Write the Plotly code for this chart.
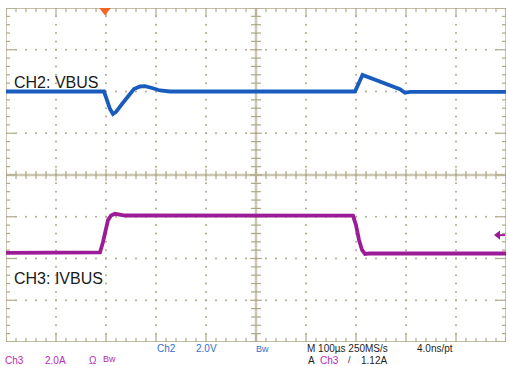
import plotly.graph_objects as go

# ---- acquisition settings ----
T_PER_DIV_US = 100.0          # horizontal: 100 us/div, 10 divisions
CH2_V_PER_DIV = 2.0           # VBUS channel
CH2_OFFSET_V = 5.0            # offset voltage shown at the channel marker
CH2_POS_DIV = 2.0             # vertical position of the channel marker
CH3_A_PER_DIV = 2.0           # IVBUS current probe channel
CH3_POS_DIV = -2.0            # ground position of the current channel
TRIGGER_LEVEL_A = 1.12
TRIGGER_TIME_US = -302.0

# ---- CH2: VBUS (time in us, volts) ----
vbus_t = [-500, -304, -298, -292, -286, -280, -268, -256, -244, -232, -222,
          -208, -192, -172, 198, 213, 228, 248, 268, 288, 298, 308, 500]
vbus_v = [5.00, 5.00, 4.59, 4.16, 3.92, 4.02, 4.40, 4.78, 5.12, 5.24, 5.26,
          5.17, 5.05, 5.00, 5.00, 5.79, 5.66, 5.50, 5.31, 5.11, 4.94, 4.98, 4.98]

# ---- CH3: IVBUS (time in us, amps) ----
ibus_t = [-500, -312, -306, -300, -296, -290, -282, -262, 194, 200, 206, 212, 218, 226, 500]
ibus_a = [0.27, 0.29, 0.79, 1.46, 1.84, 2.06, 2.14, 2.06, 2.05, 1.60, 0.89, 0.41, 0.22, 0.24, 0.24]

# ---- screen geometry ----
W, H = 508, 366
L, R, T, B = 6, 2, 8, 24
PLOT_W = W - L - R            # 500 px for 10 div
PLOT_H = H - T - B            # 334 px for 8 div
X_HALF = 5 * T_PER_DIV_US
PX_X = 2 * X_HALF / PLOT_W    # us per pixel
PX_Y = 8.0 / PLOT_H           # div per pixel

GRID = "#aea889"
CENTER = "#cbc7b2"
BLUE = "#1a5cbd"
PURPLE = "#9c1c98"
ORANGE = "#f26522"


def ch2_div(v):
    return [(x - CH2_OFFSET_V) / CH2_V_PER_DIV + CH2_POS_DIV for x in v]


def ch3_div(a):
    return [x / CH3_A_PER_DIV + CH3_POS_DIV for x in a]


fig = go.Figure()


def segments(pairs, color, width):
    xs, ys = [], []
    for (x0, y0, x1, y1) in pairs:
        xs += [x0, x1, None]
        ys += [y0, y1, None]
    fig.add_trace(go.Scatter(x=xs, y=ys, mode="lines", hoverinfo="skip",
                             line=dict(color=color, width=width), showlegend=False))


# graticule: center cross
segments([(-X_HALF, 0, X_HALF, 0), (0, -4, 0, 4)], CENTER, 2.5)

# graticule: dotted division lines
dot_x, dot_y = [], []
for i in range(-4, 5):
    if i == 0:
        continue
    gx = i * T_PER_DIV_US
    for k in range(-20, 21):
        dot_x.append(gx)
        dot_y.append(k * 0.2)
for j in range(-3, 4):
    if j == 0:
        continue
    for k in range(-25, 26):
        dot_x.append(k * T_PER_DIV_US / 5)
        dot_y.append(j)
fig.add_trace(go.Scatter(x=dot_x, y=dot_y, mode="markers", hoverinfo="skip",
                         marker=dict(color=GRID, size=2, line=dict(width=0)),
                         showlegend=False))

# graticule: minor ticks on the center cross and on the border
ticks = []
for k in range(-25, 26):
    x = k * T_PER_DIV_US / 5
    major = k % 5 == 0
    h = (6 if major else 4) * PX_Y
    ticks.append((x, -h, x, h))
    tb = (8 if major else 4) * PX_Y
    ticks.append((x, 4, x, 4 - tb))
    ticks.append((x, -4, x, -4 + tb))
for k in range(-20, 21):
    y = k * 0.2
    major = k % 5 == 0
    w = (6 if major else 5) * PX_X
    ticks.append((-w, y, w, y))
    wb = (9 if major else 4) * PX_X
    ticks.append((-X_HALF, y, -X_HALF + wb, y))
    ticks.append((X_HALF, y, X_HALF - wb, y))
segments(ticks, GRID, 1.2)

# border
segments([(-X_HALF, -4, X_HALF, -4), (-X_HALF, 4, X_HALF, 4),
          (-X_HALF, -4, -X_HALF, 4), (X_HALF, -4, X_HALF, 4)], GRID, 1.3)

# waveforms
fig.add_trace(go.Scatter(x=vbus_t, y=ch2_div(vbus_v), mode="lines", name="CH2: VBUS",
                         line=dict(color=BLUE, width=3.8), showlegend=False))
fig.add_trace(go.Scatter(x=ibus_t, y=ch3_div(ibus_a), mode="lines", name="CH3: IVBUS",
                         line=dict(color=PURPLE, width=3.8), showlegend=False))

# channel markers at the left edge
fig.add_trace(go.Scatter(x=[-X_HALF - 3 * PX_X], y=[CH2_POS_DIV + 0.03], mode="markers",
                         marker=dict(symbol="triangle-right", size=7, color=BLUE),
                         cliponaxis=False, showlegend=False, hoverinfo="skip"))
fig.add_trace(go.Scatter(x=[-X_HALF - 3 * PX_X], y=ch3_div([ibus_a[0] + 0.15]), mode="markers",
                         marker=dict(symbol="square", size=7, color=PURPLE),
                         cliponaxis=False, showlegend=False, hoverinfo="skip"))

# trigger position (top) and trigger level (right)
fig.add_trace(go.Scatter(x=[TRIGGER_TIME_US], y=[4 - 2.5 * PX_Y], mode="markers",
                         marker=dict(symbol="triangle-down", size=10, color=ORANGE),
                         cliponaxis=False, showlegend=False, hoverinfo="skip"))
trig_y = ch3_div([TRIGGER_LEVEL_A])[0]
fig.add_trace(go.Scatter(x=[X_HALF - 10 * PX_X, X_HALF - 1 * PX_X], y=[trig_y, trig_y],
                         mode="lines", line=dict(color=PURPLE, width=2),
                         showlegend=False, hoverinfo="skip"))
fig.add_trace(go.Scatter(x=[X_HALF - 8 * PX_X], y=[trig_y], mode="markers",
                         marker=dict(symbol="triangle-left", size=8, color=PURPLE),
                         showlegend=False, hoverinfo="skip"))

# channel names on screen
fig.add_annotation(x=-X_HALF + 6 * PX_X, y=ch2_div([CH2_OFFSET_V])[0] + 9 * PX_Y,
                   text="CH2: VBUS", showarrow=False, xanchor="left", yanchor="middle",
                   font=dict(family="Liberation Sans, Arial", size=16, color="#1a1a1a"))
fig.add_annotation(x=-X_HALF + 6 * PX_X, y=-4 + 64 * PX_Y,
                   text="CH3: IVBUS", showarrow=False, xanchor="left", yanchor="middle",
                   font=dict(family="Liberation Sans, Arial", size=16, color="#1a1a1a"))


# status readout below the screen
def readout(text, px, py, color, size=10):
    fig.add_annotation(x=(px - L) / PLOT_W, y=(H - B - py) / PLOT_H, xref="paper", yref="paper",
                       text=text, showarrow=False, xanchor="left", yanchor="middle",
                       borderpad=0,
                       font=dict(family="Liberation Sans, Arial", size=size, color=color))


READ_PURPLE = "#b52cb5"
READ_BLUE = "#2f6fd0"
READ_BLACK = "#1e1e1e"
ROW1, ROW2 = 348.5, 360.3
readout("Ch3", 4, ROW2, READ_PURPLE)
readout("2.0A", 44, ROW2, READ_PURPLE)
readout("Ω", 88, ROW2, READ_PURPLE)
readout("Bw", 102, ROW2 - 1, READ_PURPLE, 9)
readout("Ch2", 156, ROW1, READ_BLUE)
readout("%.1fV" % CH2_V_PER_DIV, 195, ROW1, READ_BLUE)
readout("Bw", 255, ROW1, READ_BLUE, 9)
readout("M %dµs 250MS/s" % T_PER_DIV_US, 306, ROW1, READ_BLACK)
readout("4.0ns/pt", 416, ROW1, READ_BLACK)
readout("A", 307, ROW2, READ_BLACK)
readout("Ch3", 319, ROW2, READ_PURPLE)
readout("/", 347, ROW2, READ_BLACK, 9)
readout("%.2fA" % TRIGGER_LEVEL_A, 360, ROW2, READ_BLACK)

fig.update_layout(
    width=W, height=H,
    margin=dict(l=L, r=R, t=T, b=B, pad=0),
    paper_bgcolor="white", plot_bgcolor="white",
    xaxis=dict(range=[-X_HALF, X_HALF], showgrid=False, zeroline=False,
               showticklabels=False, ticks="", fixedrange=True),
    yaxis=dict(range=[-4, 4], showgrid=False, zeroline=False,
               showticklabels=False, ticks="", fixedrange=True),
    showlegend=False,
)

fig.write_html("out.html")
